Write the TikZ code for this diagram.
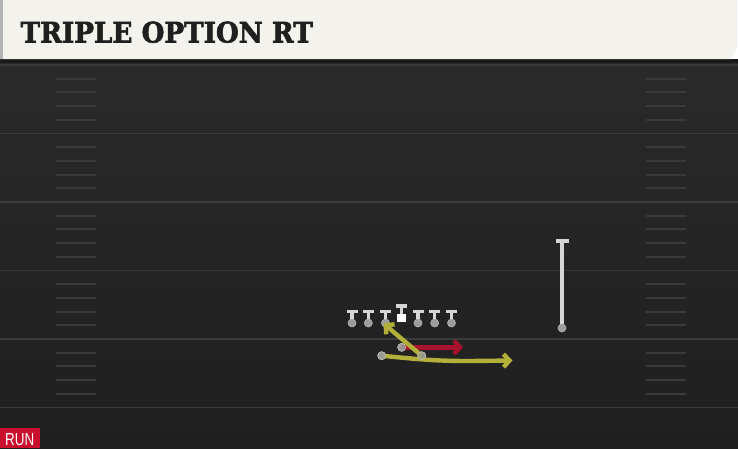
\documentclass[tikz,border=0pt]{standalone}
\usepackage{fontspec}
\usepackage{graphicx}
\usetikzlibrary{arrows.meta}
\newfontfamily\titlefont[BoldFeatures={FakeBold=2.2}]{DejaVu Serif}
\newfontfamily\tagfont{Liberation Sans}
\definecolor{paper}{HTML}{F4F2EC}
\definecolor{fieldtop}{HTML}{2A2A2A}
\definecolor{fieldbot}{HTML}{1F1F1F}
\definecolor{fieldline}{HTML}{3B3B3B}
\definecolor{hashgray}{HTML}{3A3A3A}
\definecolor{tgray}{HTML}{D6D6D6}
\definecolor{dotgray}{HTML}{9C9C9C}
\definecolor{runred}{HTML}{A8122F}
\definecolor{optyellow}{HTML}{B2AF3A}
\definecolor{tagred}{HTML}{C8102E}

\begin{document}
\begin{tikzpicture}[x=1pt,y=-1pt,
		yardline/.style={draw=fieldline,line width=1.5pt},
		hashmark/.style={draw=hashgray,line width=2pt},
		tbar/.style={rectangle,fill=tgray,minimum width=11pt,minimum height=3.5pt,inner sep=0pt},
		pdot/.style={circle,fill=dotgray,draw=dotgray!70!white,line width=0.6pt,minimum size=8pt,inner sep=0pt},
		bdot/.style={pdot,fill opacity=0.85},
		stem/.style={draw=tgray,line width=3.4pt},
		route/.style={line width=4.4pt,-{Straight Barb[length=6pt,width=13pt]}}]
		\useasboundingbox (0,0) rectangle (738,448);

		% Field and header
		\shade[top color=fieldtop,bottom color=fieldbot] (0,59) rectangle (738,448);
		\fill[fieldbot!80!black] (0,59) rectangle (738,63);
		\fill[paper] (0,0) -- (737,0) -- (737,48) -- (731,59) -- (0,59) -- cycle;
		\fill[gray!60] (0,0) rectangle (3,59);
		\node[anchor=base west,inner sep=0pt,text=black!88] (title) at (20.5,42.5)
			{\resizebox{292pt}{21pt}{\titlefont\bfseries TRIPLE OPTION RT}};

		% Yard lines and hash marks
		\foreach \y in {65,133.5,202,270.5,339,407.5} {
			\draw[yardline] (0,\y) -- (738,\y);
		}
		\foreach \y in {65,133.5,202,270.5,339} {
			\foreach \k in {1,2,3,4} {
				\draw[hashmark] (56,\y+13.7*\k) -- (96,\y+13.7*\k);
				\draw[hashmark] (646,\y+13.7*\k) -- (686,\y+13.7*\k);
			}
		}

		% Offensive line (center gets the square)
		\foreach \p/\x in {le/352,lt/368.3,lg/385.5,rg/418,rt/434.7,te/451.5} {
			\node[tbar] (t\p) at (\x,311.5) {};
			\node[pdot] (\p) at (\x,323) {};
			\draw[stem] (t\p) -- (\p);
		}
		\node[tbar] (tc) at (401.7,306) {};
		\node[rectangle,fill=white,minimum width=9pt,minimum height=8.5pt,inner sep=0pt] (c) at (401.7,318) {};
		\draw[stem] (tc) -- (c);

		% Split end
		\node[tbar,minimum width=13pt,minimum height=4pt] (tse) at (562,241) {};
		\node[pdot] (se) at (562,328) {};
		\draw[stem,line width=4.4pt] (tse) -- (se);

		% Backfield and option routes
		\coordinate (qbend) at (463,347.3);
		\coordinate (diveend) at (383.5,323.5);
		\coordinate (pitchend) at (512.5,360.5);
		\node[bdot] (qb) at (401.7,347.3) {};
		\node[bdot] (fb) at (421.7,355.7) {};
		\node[bdot] (hb) at (381.7,355.7) {};
		\draw[route,draw=runred] (qb.center) -- (qbend);
		\draw[route,draw=optyellow] (fb.center) -- (diveend);
		\draw[route,draw=optyellow] (hb.center) .. controls (425,360) and (440,361) .. (470,361) -- (pitchend);
		\node[bdot] (qbdot) at (qb) {};
		\node[bdot,fill opacity=0.6] (fbdot) at (fb) {};
		\node[bdot] (hbdot) at (hb) {};

		% Play type tag
		\fill[tagred] (0,427.5) rectangle (40,448);
		\node[anchor=base west,inner sep=0pt,text=white] (tag) at (5,445)
			{\resizebox{29pt}{12pt}{\tagfont RUN}};
	\end{tikzpicture}
\end{document}
